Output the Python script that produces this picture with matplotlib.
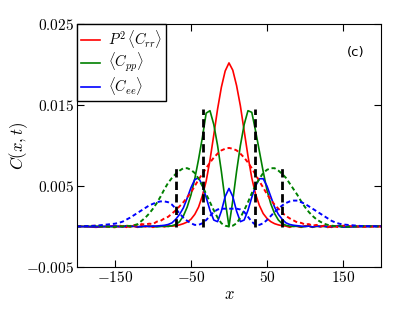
import numpy as np
import matplotlib
matplotlib.use("Agg")
import matplotlib.pyplot as plt

plt.rcParams['mathtext.fontset'] = 'cm'
plt.rcParams['font.family'] = ['DejaVu Serif']

# wspolrzedne x (wspolne dla wszystkich krzywych)
x = [-200, -175, -150, -145, -140, -135, -130, -125, -120, -115, -110, -105,
     -100, -95, -90, -85, -80, -75, -70, -65, -60, -55, -50, -45, -40, -35,
     -30, -25, -20, -15, -10, -5, 0, 5, 10, 15, 20, 25, 30, 35, 40, 45, 50,
     55, 60, 65, 70, 75, 80, 85, 90, 95, 100, 105, 110, 115, 120, 125, 130,
     135, 140, 145, 150, 175, 200]

# wartosci w jednostkach 1e-3
rr_t1 = [0.05, -0.1, 0.1, -0.05, 0.05, -0.1, 0.1, 0.0, -0.1, 0.1, -0.05, 0.1,
         -0.1, 0.05, 0.1, -0.05, 0.1, 0.05, 0.1, 0.2, 0.35, 0.55, 0.9, 1.5, 2.4, 3.8,
         5.6, 8.2, 11.3, 14.5, 17.2, 19.2, 20.2, 19.3, 17.4, 14.9, 11.8, 8.7, 6.0, 4.0,
         2.6, 1.6, 1.0, 0.6, 0.35, 0.2, 0.1, 0.05, -0.1, 0.1, 0.0, -0.1, 0.1, 0.05,
         -0.1, 0.1, -0.05, 0.1, 0.0, -0.1, 0.05, 0.1, -0.05, 0.05, 0.0]
rr_t2 = [0.0, 0.1, -0.1, 0.15, 0.0, 0.1, -0.05, 0.15, 0.1, 0.3, 0.25, 0.35,
         0.3, 0.6, 0.7, 1.0, 1.2, 1.6, 2.0, 2.5, 3.0, 3.6, 4.2, 5.0, 5.8, 6.5,
         7.2, 7.9, 8.5, 9.0, 9.4, 9.6, 9.7, 9.6, 9.4, 9.0, 8.5, 7.9, 7.2, 6.4,
         5.6, 4.8, 4.0, 3.3, 2.7, 2.2, 1.7, 1.3, 1.0, 0.75, 0.5, 0.45, 0.25, 0.3,
         0.1, 0.2, 0.0, 0.1, -0.1, 0.1, 0.0, -0.1, 0.1, -0.05, 0.0]
pp_t1 = [0.0, 0.05, -0.05, 0.05, 0.0, 0.1, -0.05, 0.05, 0.0, -0.05, 0.05, 0.0,
         0.05, -0.05, 0.0, 0.05, 0.0, 0.1, 0.25, 0.6, 1.3, 2.4, 3.9, 5.9, 8.3, 11.0,
         14.0, 14.3, 12.6, 10.0, 6.8, 3.2, 0.0, 3.2, 6.8, 10.0, 12.6, 14.3, 14.1, 11.8,
         9.3, 6.8, 4.5, 2.8, 1.6, 0.8, 0.35, 0.15, 0.05, 0.0, 0.05, -0.05, 0.0, 0.05,
         -0.05, 0.0, 0.05, 0.0, -0.05, 0.05, 0.0, 0.05, -0.05, 0.0, 0.05]
pp_t2 = [0.0, 0.05, -0.05, 0.05, 0.0, 0.1, 0.05, 0.15, 0.3, 0.7, 1.1, 1.6,
         2.2, 2.9, 3.7, 4.6, 5.4, 6.0, 6.5, 6.9, 7.2, 7.2, 7.0, 6.6, 5.9, 5.0,
         4.0, 3.0, 2.0, 1.1, 0.4, 0.1, 0.0, 0.1, 0.4, 1.1, 2.0, 3.0, 4.1, 5.1,
         5.9, 6.6, 7.0, 7.2, 7.2, 6.9, 6.5, 6.0, 5.3, 4.6, 3.9, 3.1, 2.4, 1.8,
         1.3, 0.9, 0.6, 0.35, 0.2, 0.1, 0.05, 0.1, -0.05, 0.05, 0.0]
ee_t1 = [0.0, -0.05, 0.05, 0.0, -0.05, 0.05, 0.0, 0.05, -0.05, 0.0, 0.05, 0.0,
         0.05, 0.05, 0.1, 0.15, 0.25, 0.45, 0.9, 1.5, 2.3, 3.5, 4.8, 5.8, 6.0, 5.1,
         3.6, 2.0, 0.8, 0.6, 1.9, 3.7, 4.7, 3.7, 1.9, 0.6, 0.8, 2.0, 3.6, 5.0,
         5.9, 5.9, 5.0, 3.7, 2.4, 1.5, 0.9, 0.45, 0.25, 0.15, 0.1, 0.05, 0.0, 0.05,
         -0.05, 0.05, 0.0, 0.05, -0.05, 0.0, 0.05, 0.0, -0.05, 0.0, 0.05]
ee_t2 = [0.0, 0.1, 0.35, 0.45, 0.6, 0.85, 1.1, 1.4, 1.7, 2.0, 2.3, 2.6,
         2.8, 3.0, 3.1, 3.1, 3.0, 2.7, 2.2, 1.6, 1.1, 0.7, 0.4, 0.2, 0.2, 0.4,
         0.8, 1.3, 1.8, 2.1, 2.2, 2.2, 2.2, 2.2, 2.2, 2.1, 1.8, 1.2, 0.6, 0.2,
         0.2, 0.4, 0.8, 1.3, 1.8, 2.2, 2.6, 2.9, 3.1, 3.2, 3.2, 3.0, 2.8, 2.5,
         2.2, 1.9, 1.6, 1.3, 1.0, 0.7, 0.5, 0.35, 0.25, 0.05, 0.0]

# pionowe linie (stozek swietlny)
cone_x = [-70, -34, 34, 70]
cone_h = [0.0075, 0.0145, 0.0145, 0.0075]

xticks = [-150, -50, 50, 150]
yticks = [-0.005, 0.005, 0.015, 0.025]
xtick_labels = ['$-150$', '$-50$', '$50$', '$150$']
ytick_labels = ['$-0.005$', '$0.005$', '$0.015$', '$0.025$']

fig = plt.figure(figsize=(4.15, 3.12), dpi=100)
ax = fig.add_axes([0.1855, 0.1442, 0.7325, 0.7788])

s = 1e-3
ax.plot(x, np.array(rr_t1) * s, color='#ff0000', lw=1.2, label=r'$P^2\,\langle C_{rr}\rangle$')
ax.plot(x, np.array(pp_t1) * s, color='#008000', lw=1.2, label=r'$\langle C_{pp}\rangle$')
ax.plot(x, np.array(ee_t1) * s, color='#0000ff', lw=1.2, label=r'$\langle C_{ee}\rangle$')
ax.plot(x, np.array(rr_t2) * s, color='#ff0000', lw=1.4, ls=(0, (2.2, 1.5)))
ax.plot(x, np.array(pp_t2) * s, color='#008000', lw=1.4, ls=(0, (2.2, 1.5)))
ax.plot(x, np.array(ee_t2) * s, color='#0000ff', lw=1.4, ls=(0, (2.2, 1.5)))

ax.vlines(cone_x, 0, cone_h, colors='k', lw=2, linestyles=(0, (3, 1.5)))

ax.set_xlim(-200, 200)
ax.set_ylim(-0.005, 0.025)
ax.set_xticks(xticks)
ax.set_xticklabels(xtick_labels)
ax.set_yticks(yticks)
ax.set_yticklabels(ytick_labels)
ax.tick_params(direction='in', top=True, right=True, labelsize=11, length=5, pad=2)
ax.set_xlabel('$x$', fontsize=12, labelpad=1)
ax.set_ylabel('$C(x,t)$', fontsize=12, labelpad=-3)

ax.text(155, 0.0215, '(c)', fontsize=9.5, family='DejaVu Sans', va='center')

leg = ax.legend(loc='upper left', borderaxespad=0, fancybox=False,
                framealpha=1, edgecolor='k', fontsize=10.5, handlelength=1.3,
                labelspacing=0.05, borderpad=0.3, handletextpad=0.5)
leg.get_frame().set_linewidth(1.0)

fig.savefig('out.png', dpi=100)
